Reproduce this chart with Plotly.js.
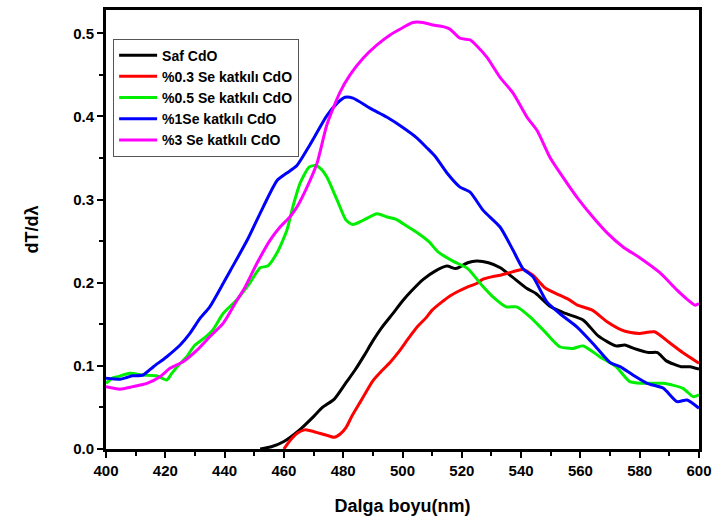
<!DOCTYPE html>
<html>
<head>
<meta charset="utf-8">
<script src="https://cdn.plot.ly/plotly-3.0.1.min.js"></script>
<style>body{margin:0;background:#fff;}#chart{width:715px;height:523px;}</style>
</head>
<body>
<div id="chart"></div>
<script>
var seriesNames = ["Saf CdO", "%0.3 Se katkılı CdO", "%0.5 Se katkılı CdO", "%1Se katkılı CdO", "%3 Se katkılı CdO"];
var seriesColors = ["#000000", "#ff0000", "#00ee00", "#0000ff", "#ff00ff"];

var safX = [452,456,460,465,470,473,477,481,484,487,490,493,497,500,503,507,511,515,518,522,525,529,533,537,542,545,550,555,561,566,572,575,578,583,586,589,594,597,600];
var safY = [0,0.003,0.009,0.022,0.039,0.05,0.06,0.08,0.095,0.112,0.13,0.146,0.164,0.178,0.19,0.204,0.214,0.220,0.217,0.224,0.226,0.224,0.218,0.207,0.193,0.187,0.171,0.163,0.155,0.136,0.124,0.125,0.121,0.116,0.116,0.106,0.099,0.099,0.096];

var se03X = [460,462,464.5,467,469,472,475,477,479,481,483,486,490,493,496,499,502,505,508,510,513,516,519,522,525,527,530,533,537,540.5,544,548,553,556,559,564,569,574,577,580,585,590,594.5,600];
var se03Y = [0,0.01,0.019,0.023,0.022,0.019,0.016,0.014,0.018,0.026,0.04,0.058,0.082,0.094,0.105,0.118,0.133,0.147,0.158,0.167,0.176,0.184,0.190,0.195,0.199,0.204,0.207,0.209,0.213,0.216,0.209,0.194,0.185,0.180,0.173,0.167,0.153,0.143,0.140,0.139,0.141,0.128,0.116,0.103];

var se05X = [400,402,404,408,412,417,420.5,422,424,427,430,433,436,439.5,444,448,452,454.5,457.7,461,463,465.5,468.5,470.5,472.5,474.5,478,481,483.3,486.7,491.4,494.8,498,501.5,505,509,512,517,522,527,530.5,535,538.5,543,547.5,553,557.5,561,566.5,572,576.7,581,588,594.6,598,600];
var se05Y = [0.079,0.085,0.087,0.091,0.089,0.088,0.083,0.09,0.099,0.11,0.125,0.133,0.143,0.163,0.179,0.197,0.218,0.220,0.236,0.263,0.291,0.320,0.339,0.341,0.337,0.327,0.299,0.275,0.270,0.275,0.283,0.279,0.276,0.268,0.260,0.249,0.237,0.226,0.217,0.196,0.183,0.171,0.171,0.159,0.143,0.123,0.121,0.124,0.111,0.099,0.081,0.079,0.079,0.073,0.063,0.065];

var se1X = [400,404.7,407,409,412.5,416,420.5,425,428.3,431.7,435,439.5,442,447.6,453,457.7,461,464.4,468.8,474.5,478,480.6,483.3,489,494.8,500,504.9,508.3,511,515,519.4,522.8,527.2,532.9,537.3,540.6,544,548.7,553,558.8,564.2,570,573.4,577.7,582.5,588,592.6,596,600];
var se1Y = [0.085,0.084,0.086,0.088,0.089,0.099,0.111,0.125,0.139,0.157,0.171,0.199,0.215,0.251,0.291,0.323,0.332,0.341,0.366,0.401,0.416,0.423,0.422,0.410,0.399,0.387,0.374,0.362,0.352,0.332,0.315,0.309,0.287,0.267,0.239,0.217,0.207,0.177,0.163,0.147,0.127,0.104,0.099,0.089,0.079,0.073,0.057,0.059,0.049];

var se3X = [400,404.7,409,413.8,418.2,421.6,426,430.7,435,439.5,444.2,446.5,451,455.3,458.7,462,464.4,467.8,471.2,474.5,478.9,482.3,486.7,491.4,495.8,500.2,503.5,506.9,510.3,513.7,516,519.4,522.8,525,528.5,532.9,537.3,542,545.4,549.7,554.1,558.8,564.2,569,574.4,580,586.8,592.6,596,598.7,600];
var se3Y = [0.075,0.072,0.075,0.079,0.087,0.097,0.105,0.119,0.135,0.151,0.179,0.192,0.224,0.251,0.267,0.279,0.291,0.315,0.344,0.390,0.429,0.450,0.470,0.486,0.498,0.507,0.513,0.513,0.510,0.508,0.505,0.494,0.492,0.485,0.471,0.447,0.428,0.399,0.383,0.351,0.327,0.303,0.279,0.260,0.243,0.230,0.212,0.191,0.180,0.173,0.175];

var xTickVals = [400,420,440,460,480,500,520,540,560,580,600];
var yTickVals = [0.0,0.1,0.2,0.3,0.4,0.5];
var yTickText = ["0.0","0.1","0.2","0.3","0.4","0.5"];

var xs = [safX, se03X, se05X, se1X, se3X];
var ys = [safY, se03Y, se05Y, se1Y, se3Y];
var traces = [];
for (var i = 0; i < xs.length; i++) {
  traces.push({
    x: xs[i], y: ys[i], name: seriesNames[i], type: 'scatter', mode: 'lines',
    line: {color: seriesColors[i], width: 3, shape: 'spline', smoothing: 0.6}
  });
}

var fontFam = 'Liberation Sans, Arial, sans-serif';
var layout = {
  width: 715, height: 523,
  margin: {l: 106, r: 16, t: 10, b: 74},
  paper_bgcolor: '#ffffff', plot_bgcolor: '#ffffff',
  showlegend: true,
  legend: {
    x: 0.012, y: 0.935, xanchor: 'left', yanchor: 'top',
    bgcolor: '#ffffff', bordercolor: '#555555', borderwidth: 1,
    font: {family: fontFam, size: 14, color: '#000', weight: 'bold'},
    tracegroupgap: 0, itemwidth: 38
  },
  xaxis: {
    range: [400, 600], tickvals: xTickVals,
    ticks: 'outside', ticklen: 6, tickwidth: 2, tickcolor: '#000',
    minor: {dtick: 10, ticks: 'outside', ticklen: 4, tickwidth: 2, tickcolor: '#000'},
    showline: true, linecolor: '#000', linewidth: 3, mirror: true,
    showgrid: false, zeroline: false,
    tickfont: {family: fontFam, size: 15, color: '#000', weight: 'bold'},
    title: {text: 'Dalga boyu(nm)', font: {family: fontFam, size: 18, color: '#000', weight: 'bold'}, standoff: 22}
  },
  yaxis: {
    range: [0, 0.528], tickvals: yTickVals, ticktext: yTickText,
    ticks: 'outside', ticklen: 6, tickwidth: 2, tickcolor: '#000',
    minor: {dtick: 0.05, ticks: 'outside', ticklen: 4, tickwidth: 2, tickcolor: '#000'},
    showline: true, linecolor: '#000', linewidth: 3, mirror: true,
    showgrid: false, zeroline: false,
    tickfont: {family: fontFam, size: 15, color: '#000', weight: 'bold'},
    title: {text: 'dT/dλ', font: {family: fontFam, size: 18, color: '#000', weight: 'bold'}, standoff: 30}
  }
};
Plotly.newPlot('chart', traces, layout, {displayModeBar: false, responsive: false});
</script>
</body>
</html>
